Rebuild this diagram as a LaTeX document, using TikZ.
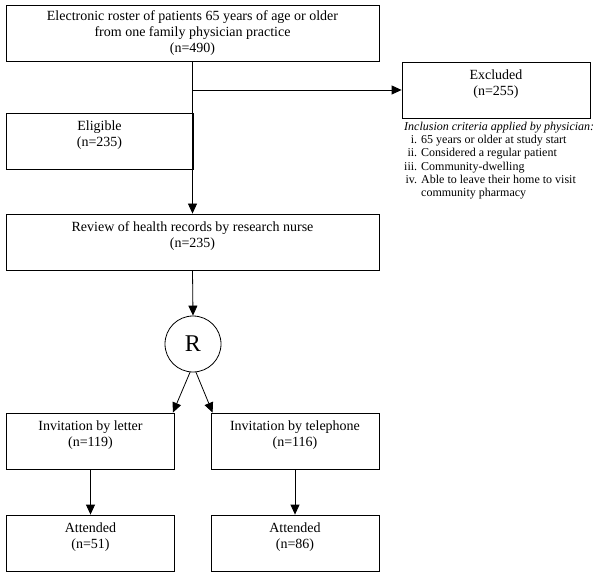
\documentclass[tikz,border=0pt]{standalone}
\usepackage{fontspec}
\setmainfont{Liberation Serif}
\usetikzlibrary{arrows.meta,positioning}
\newcommand{\upbox}[1]{\raisebox{6pt}[\height][\depth]{\begin{tabular}{@{}c@{}}#1\end{tabular}}}
\tikzset{
flowbox/.style={draw,line width=0.8pt,rectangle,minimum height=56pt,inner sep=0pt,
  font=\fontsize{14}{16}\selectfont,align=center},
flowarrow/.style={line width=0.8pt,-{Triangle[length=10pt,width=9pt]}}
}
\begin{document}
\begin{tikzpicture}[x=1pt,y=-1pt]
\useasboundingbox (0,0) rectangle (600,577);
\node[flowbox,minimum width=373pt] (roster) at (192.5,33) {Electronic roster of patients 65 years of age or older\\from one family physician practice\\(n=490)};
\node[flowbox,minimum width=188pt] (excl) at (496,90) {\upbox{Excluded\\(n=255)}};
\node[flowbox,minimum width=187pt] (elig) at (99.5,141) {\upbox{Eligible\\(n=235)}};
\node[flowbox,minimum width=373pt] (review) at (192.5,242) {\upbox{Review of health records by research nurse\\(n=235)}};
\node[draw,line width=0.8pt,circle,minimum size=56pt,inner sep=0pt,font=\fontsize{24}{28}\selectfont] (rand) at (193,344) {R};
\node[flowbox,minimum width=168pt] (letter) at (90.5,441) {\upbox{Invitation by letter\\(n=119)}};
\node[flowbox,minimum width=168pt] (phone) at (295,441) {\upbox{Invitation by telephone\\(n=116)}};
\node[flowbox,minimum width=168pt] (attl) at (90.5,543) {\upbox{Attended\\(n=51)}};
\node[flowbox,minimum width=168pt] (attp) at (295,543) {\upbox{Attended\\(n=86)}};
\node[anchor=north west,inner sep=0pt,font=\fontsize{12}{13.2}\selectfont] (crit) at (404,121)
  {\begin{tabular}{@{}r@{\hspace{4pt}}l@{}}
   \multicolumn{2}{@{}l@{}}{\textit{Inclusion criteria applied by physician:}}\\
   i. & 65 years or older at study start\\
   ii. & Considered a regular patient\\
   iii. & Community-dwelling\\
   iv. & Able to leave their home to visit\\
       & community pharmacy
   \end{tabular}};
\coordinate (split) at (roster.south |- excl.west);
\draw[flowarrow] (roster.south) -- (review.north);
\draw[flowarrow] (split) -- (excl.west);
\draw[flowarrow] (review.south) -- (rand.north);
\draw[flowarrow] (rand.-96) -- ([xshift=-2pt]letter.north east);
\draw[flowarrow] (rand.-84) -- ([xshift=2pt]phone.north west);
\draw[flowarrow] (letter.south) -- (attl.north);
\draw[flowarrow] (phone.south) -- (attp.north);
\end{tikzpicture}
\end{document}
